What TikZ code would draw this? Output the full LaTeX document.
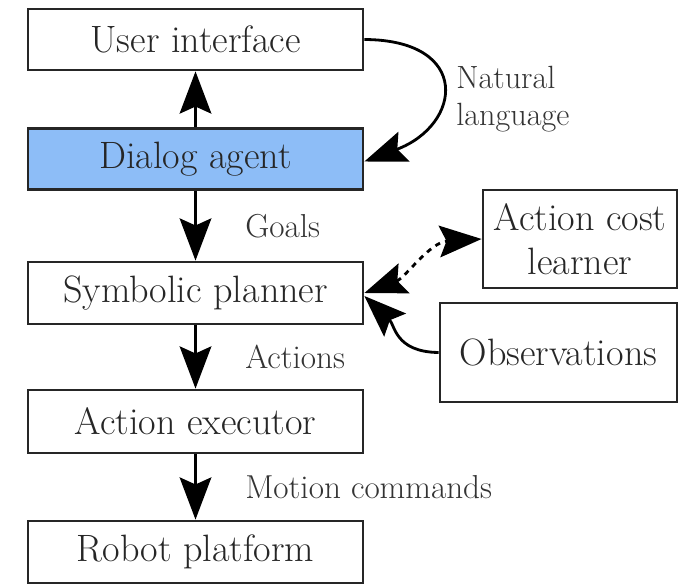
\documentclass[tikz,border=0pt]{standalone}
\usepackage{tikz}
\usepackage{xcolor}
\usetikzlibrary{arrows.meta,positioning,calc}
\definecolor{agentblue}{HTML}{8DBDF7}
\tikzset{>={Stealth[length=24pt,width=18pt,inset=4pt]}}
\tikzset{
	block/.style={draw=black!85, line width=1.6pt, minimum width=6.7cm, minimum height=1.22cm, inner sep=0pt, text=black!85, font=\fontsize{21.7}{25}\selectfont},
	sideblock/.style={block, align=center, minimum width=0cm},
	flow/.style={->, line width=1.6pt, black},
	lab/.style={right, xshift=0.85cm, text=black!80, font=\fontsize{18.9}{22}\selectfont}
}

\begin{document}
\begin{tikzpicture}[x=0.02cm, y=-0.02cm]
	\useasboundingbox (0,0) rectangle (679,587);
	% Main chain
	\node[block] (ui) at (195.5, 39.5) {User interface};
	\node[block, fill=agentblue] (dialog) at (195.5, 159) {Dialog agent};
	\node[block, minimum height=1.24cm] (planner) at (195.5, 293) {Symbolic planner};
	\node[block, minimum height=1.26cm] (executor) at (195.5, 421.5) {Action executor};
	\node[block, minimum height=1.24cm] (robot) at (195.5, 552) {Robot platform};
	
	% Side boxes
	\node[sideblock, minimum width=3.88cm, minimum height=1.96cm] (learner) at (580, 239) {Action cost\\learner};
	\node[sideblock, minimum width=4.74cm, minimum height=1.98cm] (obs) at (558.5, 352.5) {Observations};
	
	% Drawing everything
	\draw[flow] (dialog) -- (ui);
	\draw[flow] (dialog) -- node[lab] {Goals} (planner);
	\draw[flow] (planner) -- node[lab] {Actions} (executor);
	\draw[flow] (executor) -- node[lab] {Motion commands} (robot);
	\draw[flow] (ui.east) .. controls (472,40) and (462,125) .. ([yshift=-0.05cm]dialog.east);
	\node[anchor=west, align=left, inner sep=0pt, text=black!80, font=\fontsize{18.3}{21}\selectfont] (natlang) at (456, 99) {Natural\\language};
	\draw[flow, <->, dashed] (planner.east) .. controls (405,278) and (430,242) .. (learner.west);
	\draw[flow] (obs.west) .. controls (395,352) and (395,325) .. ([yshift=-0.06cm]planner.east);
\end{tikzpicture}
\end{document}
